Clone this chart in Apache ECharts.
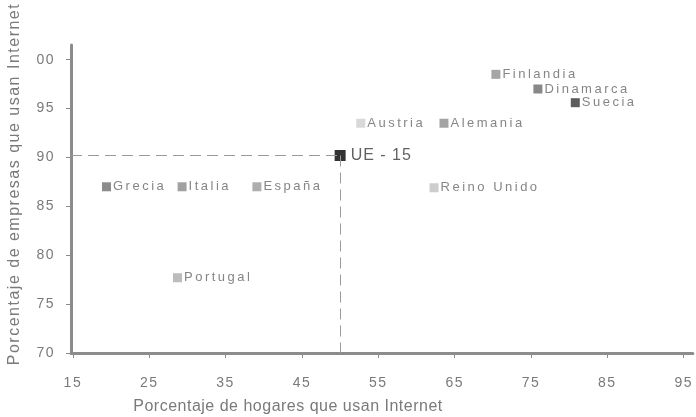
<!DOCTYPE html>
<html>
<head>
<meta charset="utf-8">
<script src="https://cdn.jsdelivr.net/npm/echarts@6/dist/echarts.min.js"></script>
<style>
html,body{margin:0;padding:0;background:#fff;}
#c{width:696px;height:417px;}
</style>
</head>
<body>
<div id="c"></div>
<script>
const countries = ['Grecia','Italia','España','Portugal','UE - 15','Austria','Alemania','Reino Unido','Finlandia','Dinamarca','Suecia'];
const hogares  = [19.4, 29.3, 39.1, 28.7, 50.0, 52.7, 63.6, 62.3, 70.4, 75.9, 80.8];
const empresas = [87.0, 87.0, 87.0, 77.7, 90.2, 93.5, 93.5, 86.9, 98.5, 97.0, 95.6];
const xTicks = [15, 25, 35, 45, 55, 65, 75, 85, 95];
const yTicks = [70, 75, 80, 85, 90, 95, 100];
const yTickLabels = ['70', '75', '80', '85', '90', '95', '00'];
const xTitle = 'Porcentaje de hogares que usan Internet';
const yTitle = 'Porcentaje de empresas que usan Internet';

const markerColors = ['#6f6f6f','#8a8a8a','#9a9a9a','#ababab','#000000','#d0d0d0','#8c8c8c','#c0c0c0','#8e8e8e','#6a6a6a','#333333'];

// letter spacing helper: family lists carrying a dummy "spN" name get N*0.5 px tracking
(function () {
  const proto = CanvasRenderingContext2D.prototype;
  const desc = Object.getOwnPropertyDescriptor(proto, 'font');
  if (!desc || !('letterSpacing' in proto)) return;
  Object.defineProperty(proto, 'font', {
    configurable: true,
    get: function () { return desc.get.call(this); },
    set: function (v) {
      desc.set.call(this, v);
      const m = /sp(\d+)/.exec(v);
      this.letterSpacing = m ? (parseInt(m[1], 10) / 2) + 'px' : '0px';
    }
  });
})();

const ueIdx = countries.indexOf('UE - 15');
const data = countries.map((name, i) => ({
  name: name,
  value: [hogares[i], empresas[i]],
  symbolSize: i === ueIdx ? 11 : 9,
  itemStyle: { color: markerColors[i] },
  label: i === ueIdx ? { fontSize: 16, color: '#3a3a3a', fontFamily: 'Arial, sp2', distance: 5 } : undefined
}));

const chart = echarts.init(document.getElementById('c'), null, { renderer: 'canvas' });
chart.setOption({
  animation: false,
  backgroundColor: '#fff',
  grid: { left: 71, right: 0, top: 45, bottom: 64, containLabel: false },
  xAxis: {
    type: 'value', min: 14.75, max: 96.2,
    axisLine: { show: true, onZero: false, lineStyle: { color: '#8c8c8c', width: 3 } },
    axisTick: { show: true, customValues: xTicks, length: 5, lineStyle: { color: '#8c8c8c', width: 1 } },
    axisLabel: { customValues: xTicks, color: '#7a7a7a', fontSize: 14, fontFamily: 'Arial, sp3', margin: 22 },
    splitLine: { show: false }
  },
  yAxis: {
    type: 'value', min: 70, max: 101.5,
    axisLine: { show: true, onZero: false, lineStyle: { color: '#8c8c8c', width: 3 } },
    axisTick: { show: true, customValues: yTicks, length: 5, lineStyle: { color: '#8c8c8c', width: 1 } },
    axisLabel: {
      customValues: yTicks, color: '#7a7a7a', fontSize: 14, fontFamily: 'Arial, sp3', margin: 16,
      formatter: v => yTickLabels[yTicks.indexOf(v)]
    },
    splitLine: { show: false }
  },
  graphic: [
    { type: 'text', x: 288, y: 407, style: { text: xTitle, fill: '#7a7a7a', font: '16px Arial, sp1', align: 'center', verticalAlign: 'middle' } },
    { type: 'text', x: 15, y: 184, rotation: Math.PI / 2, style: { text: yTitle, fill: '#7a7a7a', font: '16px Arial, sp3', align: 'center', verticalAlign: 'middle' } }
  ],
  series: [{
    type: 'scatter',
    symbol: 'rect',
    data: data,
    label: {
      show: true, position: 'right', distance: 2,
      formatter: '{b}', color: '#666666', fontSize: 13, fontFamily: 'Arial, sp5'
    },
    markLine: {
      silent: true, symbol: 'none', animation: false,
      label: { show: false },
      lineStyle: { color: '#9a9a9a', type: [11, 6], width: 1 },
      data: [
        [{ coord: [14.75, empresas[ueIdx]] }, { coord: [hogares[ueIdx], empresas[ueIdx]] }],
        [{ coord: [hogares[ueIdx], empresas[ueIdx]] }, { coord: [hogares[ueIdx], 70] }]
      ]
    }
  }]
});
</script>
</body>
</html>
